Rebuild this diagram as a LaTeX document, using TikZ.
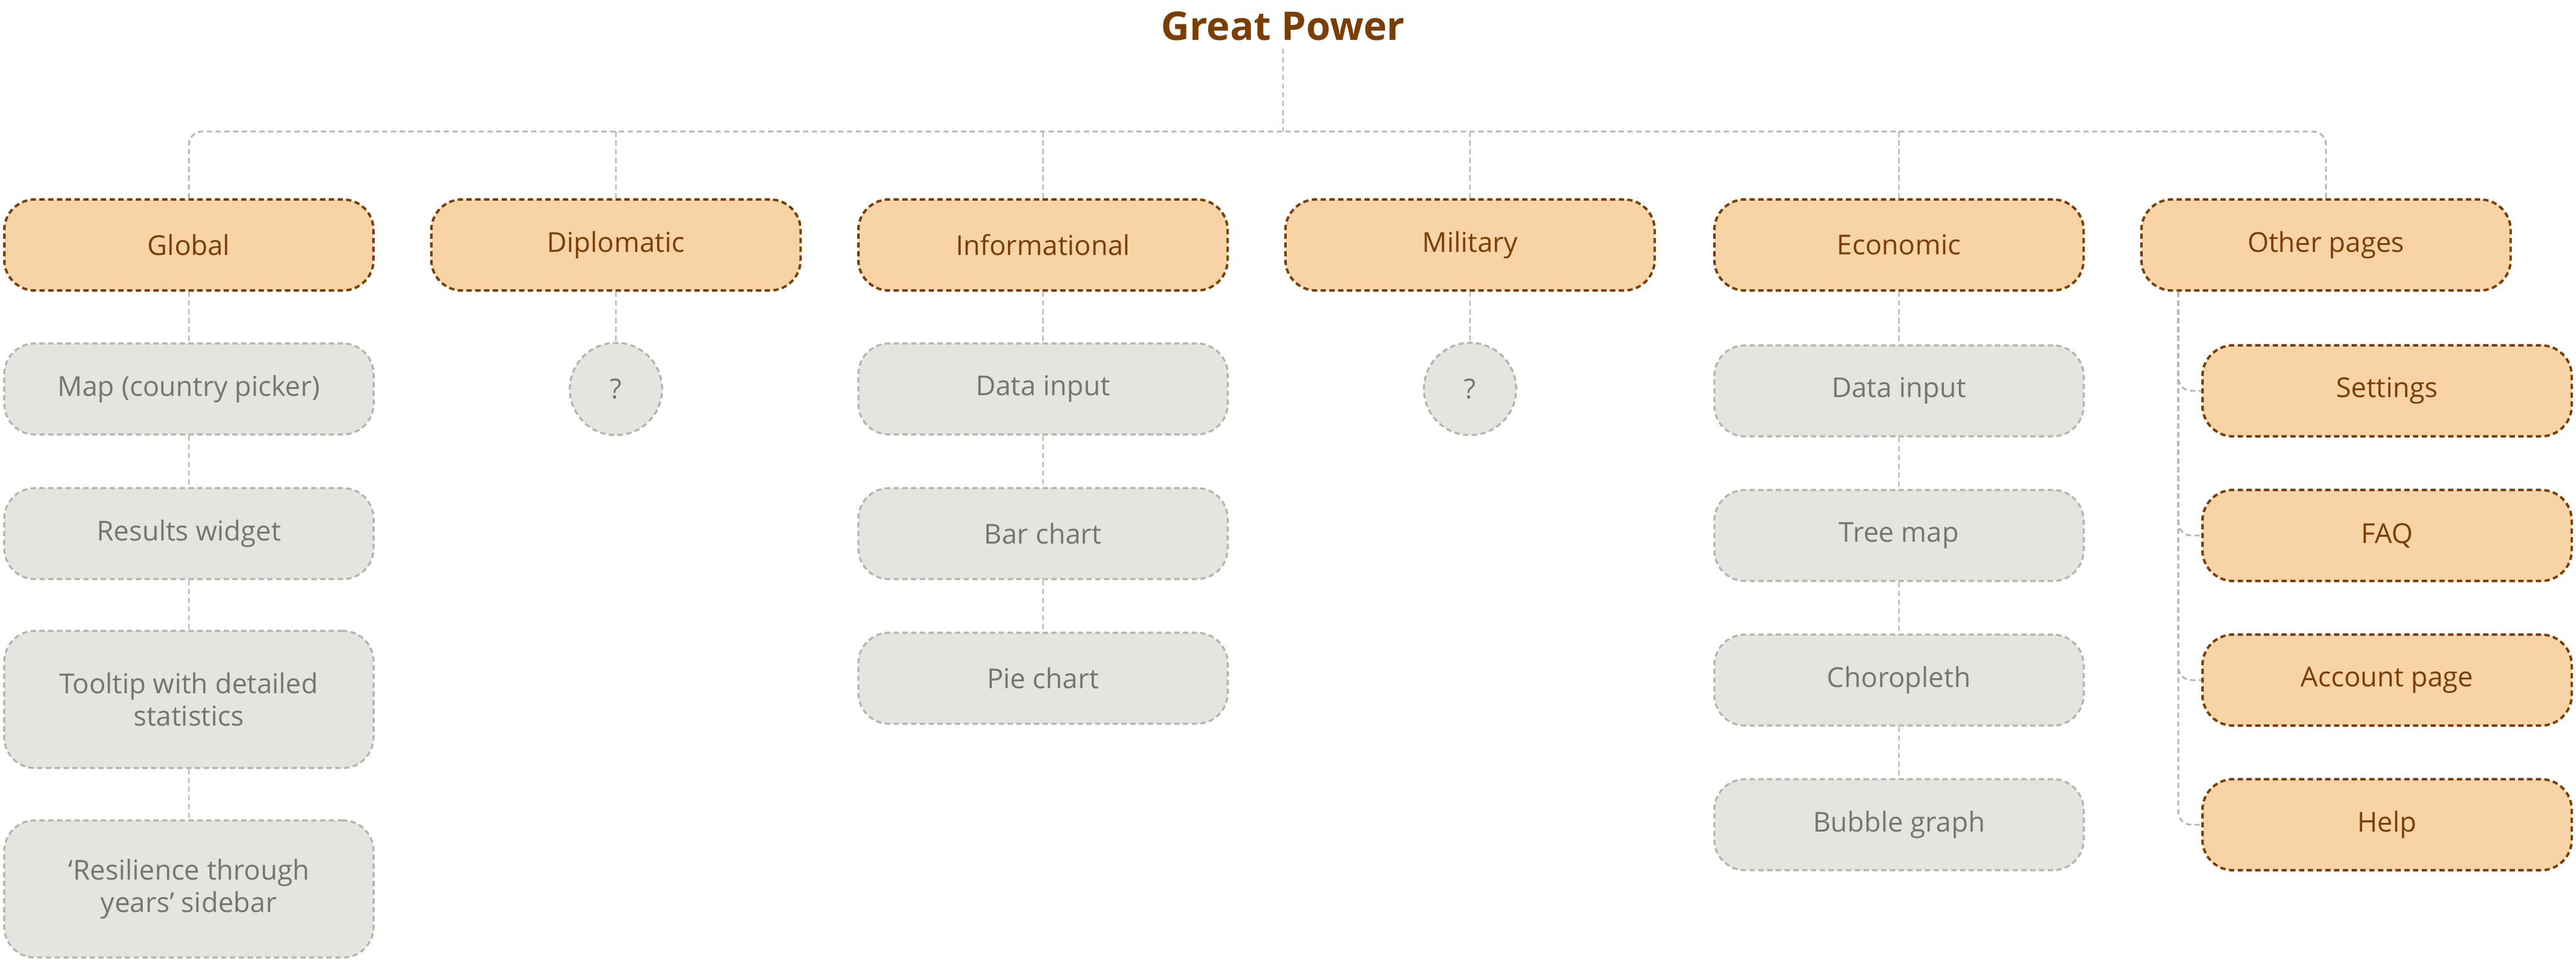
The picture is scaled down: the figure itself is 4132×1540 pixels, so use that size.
\documentclass[tikz,border=0pt]{standalone}
\usepackage{fontspec}
\setmainfont{Open Sans}
\begin{document}
\begin{tikzpicture}[x=0.01cm,y=-0.01cm,
  org/.style={draw=brownc,fill=orangef,rounded corners=14pt,line width=1.1pt,dash pattern=on 2.4pt off 1.6pt,minimum width=5.92cm,minimum height=1.46cm,text=brownc,font=\fontsize{12.5}{15}\selectfont,align=center},
  gry/.style={draw=grayb,fill=grayf,rounded corners=14pt,line width=0.9pt,dash pattern=on 2.4pt off 1.6pt,minimum width=5.92cm,minimum height=1.46cm,text=grayt,font=\fontsize{12.5}{15}\selectfont,align=center},
  tall/.style={minimum height=2.2cm},
  circ/.style={circle,draw=grayb,fill=grayf,line width=0.9pt,dash pattern=on 2.4pt off 1.6pt,minimum size=1.48cm,text=grayt,font=\fontsize{12.5}{15}\selectfont},
  con/.style={draw=grayb,line width=0.8pt,dash pattern=on 2.4pt off 1.6pt,rounded corners=6pt}]
\definecolor{brownc}{HTML}{7A3E00}
\definecolor{orangef}{HTML}{F7D3A6}
\definecolor{grayb}{HTML}{B5B3AE}
\definecolor{grayf}{HTML}{E5E4E0}
\definecolor{grayt}{HTML}{77756F}
\useasboundingbox (0,0) rectangle (4132,1540);
\node[text=brownc,font=\fontsize{18}{20}\selectfont\bfseries] (title) at (2058,42) {Great Power};
\coordinate (tb) at (2058,211);
\node[org] (g) at (303,393) {Global};
\node[org] (d) at (988,393) {Diplomatic};
\node[org] (i) at (1673,393) {Informational};
\node[org] (m) at (2358,393) {Military};
\node[org] (e) at (3046,393) {Economic};
\node[org] (o) at (3731,393) {Other pages};
\node[gry] (g1) at (303,624) {Map (country picker)};
\node[gry] (g2) at (303,856) {Results widget};
\node[gry,tall] (g3) at (303,1122) {Tooltip with detailed\\statistics};
\node[gry,tall] (g4) at (303,1426) {‘Resilience through\\years’ sidebar};
\node[circ] (d1) at (988,624) {?};
\node[circ] (m1) at (2358,624) {?};
\node[gry] (i1) at (1673,624) {Data input};
\node[gry] (i2) at (1673,856) {Bar chart};
\node[gry] (i3) at (1673,1088) {Pie chart};
\node[gry] (e1) at (3046,627) {Data input};
\node[gry] (e2) at (3046,859) {Tree map};
\node[gry] (e3) at (3046,1091) {Choropleth};
\node[gry] (e4) at (3046,1323) {Bubble graph};
\node[org] (o1) at (3829,627) {Settings};
\node[org] (o2) at (3829,859) {FAQ};
\node[org] (o3) at (3829,1091) {Account page};
\node[org] (o4) at (3829,1323) {Help};
\draw[con] (title.south) -- (tb);
\draw[con] (g.north) |- (tb) -| (o.north);
\foreach \n in {d,i,m,e} \draw[con] (\n.north) -- (\n.north |- tb);
\draw[con] (g) -- (g1) -- (g2) -- (g3) -- (g4);
\draw[con] (d) -- (d1);
\draw[con] (m) -- (m1);
\draw[con] (i) -- (i1) -- (i2) -- (i3);
\draw[con] (e) -- (e1) -- (e2) -- (e3) -- (e4);
\coordinate (ov) at (3494,0);
\draw[con] (ov |- o.south) |- (o4.west);
\foreach \n in {o1,o2,o3} \draw[con] (ov |- o.south) |- (\n.west);
\end{tikzpicture}
\end{document}
